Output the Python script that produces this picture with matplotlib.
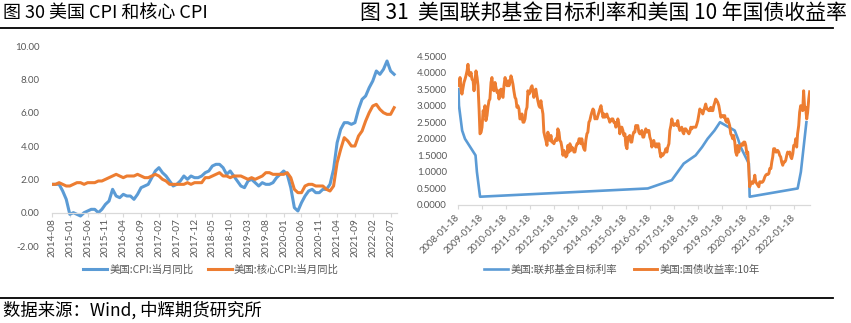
import numpy as np
import pandas as pd
import matplotlib
matplotlib.use("Agg")
import matplotlib.pyplot as plt
from matplotlib.lines import Line2D
from matplotlib.ticker import FormatStrFormatter

# ---- 美国 CPI / 核心 CPI 当月同比 (2014-08 .. 2022-08) ----
cpi_months = pd.period_range("2014-08", "2022-08", freq="M").strftime("%Y-%m")
cpi_yoy = [
    1.7, 1.7, 1.7, 1.3, 0.8,
    -0.1, 0.0, -0.1, -0.2, 0.0, 0.1, 0.2, 0.2, 0.0, 0.2, 0.5, 0.7,
    1.4, 1.0, 0.9, 1.1, 1.0, 1.0, 0.8, 1.1, 1.5, 1.6, 1.7, 2.1,
    2.5, 2.7, 2.4, 2.2, 1.9, 1.6, 1.7, 1.9, 2.2, 2.0, 2.2, 2.1,
    2.1, 2.2, 2.4, 2.5, 2.8, 2.9, 2.9, 2.7, 2.3, 2.5, 2.2, 1.9,
    1.6, 1.5, 1.9, 2.0, 1.8, 1.6, 1.8, 1.7, 1.7, 1.8, 2.1, 2.3,
    2.5, 2.3, 1.5, 0.3, 0.1, 0.6, 1.0, 1.3, 1.4, 1.2, 1.2, 1.4,
    1.4, 1.7, 2.6, 4.2, 5.0, 5.4, 5.4, 5.3, 5.4, 6.2, 6.8, 7.0,
    7.5, 7.9, 8.5, 8.3, 8.6, 9.1, 8.5, 8.3,
]
core_cpi_yoy = [
    1.7, 1.7, 1.8, 1.7, 1.6,
    1.6, 1.7, 1.8, 1.8, 1.7, 1.8, 1.8, 1.8, 1.9, 1.9, 2.0, 2.1,
    2.2, 2.3, 2.2, 2.1, 2.2, 2.2, 2.2, 2.3, 2.2, 2.1, 2.1, 2.2,
    2.3, 2.2, 2.0, 1.9, 1.7, 1.7, 1.7, 1.7, 1.7, 1.8, 1.7, 1.8,
    1.8, 1.8, 2.1, 2.1, 2.2, 2.3, 2.4, 2.2, 2.2, 2.1, 2.2, 2.2,
    2.2, 2.1, 2.0, 2.1, 2.0, 2.1, 2.2, 2.4, 2.4, 2.3, 2.3, 2.3,
    2.3, 2.4, 2.1, 1.4, 1.2, 1.2, 1.6, 1.7, 1.7, 1.6, 1.6, 1.6,
    1.4, 1.3, 1.6, 3.0, 3.8, 4.5, 4.3, 4.0, 4.0, 4.6, 4.9, 5.5,
    6.0, 6.4, 6.5, 6.2, 6.0, 5.9, 5.9, 6.3,
]

# ---- 联邦基金目标利率 (上限, 仅调整日) ----
fed_dates = pd.to_datetime([
    "2008-01-22", "2008-01-30", "2008-03-18", "2008-04-30", "2008-10-08",
    "2008-10-29", "2008-12-16", "2015-12-16", "2016-12-14", "2017-03-15",
    "2017-06-14", "2017-12-13", "2018-03-21", "2018-06-13", "2018-09-26",
    "2018-12-19", "2019-07-31", "2019-09-18", "2019-10-30", "2020-03-03",
    "2020-03-15", "2022-03-16", "2022-05-04", "2022-06-15", "2022-07-27",
])
fed_rate = [
    3.50, 3.00, 2.25, 2.00, 1.50, 1.00, 0.25, 0.50, 0.75, 1.00,
    1.25, 1.50, 1.75, 2.00, 2.25, 2.50, 2.25, 2.00, 1.75, 1.25,
    0.25, 0.50, 1.00, 1.75, 2.50,
]

# ---- 10 年期国债收益率, 每月 1 日 / 15 日 ----
ust10_2008 = [3.75,
              3.60, 3.85, 3.50, 3.35, 3.55, 3.70, 3.80, 3.90, 4.05, 4.25, 3.95,
              3.90, 4.00, 3.80, 3.75, 3.45, 3.80, 4.05, 3.85, 3.60, 2.90, 2.15]
ust10_2009 = [2.20, 2.35, 2.85, 2.75, 3.00, 2.55, 2.70, 2.95, 3.15, 3.20, 3.70, 3.85,
              3.50, 3.45, 3.70, 3.55, 3.40, 3.45, 3.20, 3.45, 3.50, 3.30, 3.25, 3.60]
ust10_2010 = [3.85, 3.70, 3.60, 3.75, 3.60, 3.70, 3.90, 3.80, 3.65, 3.45, 3.25, 3.20,
              2.95, 3.00, 2.90, 2.60, 2.60, 2.75, 2.50, 2.50, 2.60, 2.85, 2.95, 3.45]
ust10_2011 = [3.35, 3.40, 3.55, 3.60, 3.45, 3.25, 3.45, 3.50, 3.30, 3.15, 3.00, 2.95,
              3.15, 2.95, 2.75, 2.20, 2.05, 1.95, 1.80, 2.20, 2.05, 1.95, 2.10, 1.90]
ust10_2012 = [1.90, 1.85, 1.95, 2.00, 1.95, 2.30, 2.20, 1.95, 1.90, 1.75, 1.50, 1.65,
              1.55, 1.45, 1.50, 1.80, 1.60, 1.85, 1.65, 1.75, 1.70, 1.60, 1.60, 1.75]
ust10_2013 = [1.85, 1.85, 2.00, 2.00, 1.85, 2.00, 1.80, 1.70, 1.65, 1.95, 2.15, 2.20,
              2.50, 2.55, 2.70, 2.80, 2.90, 2.85, 2.60, 2.65, 2.60, 2.70, 2.80, 2.90]
ust10_2014 = [3.00, 2.85, 2.65, 2.75, 2.65, 2.70, 2.75, 2.65, 2.60, 2.50, 2.55, 2.60,
              2.60, 2.50, 2.50, 2.35, 2.40, 2.60, 2.45, 2.15, 2.35, 2.35, 2.25, 2.10]
ust10_2015 = [2.15, 1.80, 1.70, 2.05, 2.05, 2.10, 1.90, 1.90, 2.10, 2.20, 2.20, 2.40,
              2.35, 2.40, 2.20, 2.15, 2.15, 2.25, 2.05, 2.05, 2.20, 2.30, 2.20, 2.25]
ust10_2016 = [2.25, 2.05, 1.95, 1.75, 1.85, 1.95, 1.80, 1.75, 1.85, 1.75, 1.85, 1.60,
              1.45, 1.55, 1.50, 1.55, 1.60, 1.70, 1.60, 1.75, 1.85, 2.25, 2.40, 2.60]
ust10_2017 = [2.45, 2.40, 2.45, 2.45, 2.40, 2.55, 2.35, 2.25, 2.30, 2.35, 2.20, 2.15,
              2.30, 2.30, 2.25, 2.20, 2.15, 2.20, 2.35, 2.30, 2.35, 2.35, 2.35, 2.35]
ust10_2018 = [2.45, 2.55, 2.75, 2.90, 2.85, 2.85, 2.75, 2.85, 2.95, 3.05, 2.90, 2.90,
              2.85, 2.85, 2.95, 2.85, 2.85, 3.00, 3.10, 3.20, 3.15, 3.10, 3.00, 2.85]
ust10_2019 = [2.65, 2.70, 2.70, 2.65, 2.70, 2.55, 2.50, 2.60, 2.50, 2.40, 2.15, 2.10,
              2.00, 2.10, 1.90, 1.60, 1.50, 1.80, 1.60, 1.75, 1.80, 1.85, 1.80, 1.90]
ust10_2020 = [1.90, 1.80, 1.55, 1.60, 1.10, 0.55, 0.65, 0.70, 0.65, 0.70, 0.90, 0.70,
              0.65, 0.60, 0.55, 0.70, 0.70, 0.68, 0.70, 0.75, 0.85, 0.90, 0.93, 0.92]
ust10_2021 = [0.95, 1.10, 1.10, 1.30, 1.45, 1.70, 1.70, 1.60, 1.60, 1.65, 1.60, 1.50,
              1.45, 1.30, 1.20, 1.30, 1.30, 1.35, 1.50, 1.60, 1.55, 1.60, 1.45, 1.40]
ust10_2022 = [1.55, 1.80, 1.80, 2.00, 1.75, 2.15, 2.40, 2.80, 3.00, 2.90, 2.85, 3.45,
              2.90, 2.95, 2.60, 2.80, 3.20, 3.42]

ust10 = (ust10_2008 + ust10_2009 + ust10_2010 + ust10_2011 + ust10_2012
         + ust10_2013 + ust10_2014 + ust10_2015 + ust10_2016 + ust10_2017
         + ust10_2018 + ust10_2019 + ust10_2020 + ust10_2021 + ust10_2022)
ust10_dates = pd.date_range("2008-01-15", "2022-09-15", freq="SMS")
assert len(ust10_dates) == len(ust10)

date_ticks = pd.date_range("2008-01-18", periods=15, freq=pd.DateOffset(years=1))

BLUE = "#5B9BD5"
ORANGE = "#ED7D31"
GREY_TXT = "#595959"
GREY_AX = "#D9D9D9"
CJK = "Noto Sans CJK SC"

plt.rcParams["font.family"] = ["Lato", CJK]

W, H = 851, 323
fig = plt.figure(figsize=(W / 100, H / 100), dpi=100)


def fig_rect(x0, y0, x1, y1):
    return [x0 / W, 1 - y1 / H, (x1 - x0) / W, (y1 - y0) / H]


def style_axes(ax):
    for side in ("left", "right", "top"):
        ax.spines[side].set_visible(False)
    ax.spines["bottom"].set_color(GREY_AX)
    ax.spines["bottom"].set_linewidth(0.9)
    ax.tick_params(axis="y", length=0, colors=GREY_TXT)
    ax.tick_params(axis="x", length=3, width=0.8, color=GREY_AX, colors=GREY_TXT)


# ---- left: CPI ----
ax1 = fig.add_axes(fig_rect(52, 46, 397, 246))
# category axis crosses at 0, labels hang below it
ax1.spines["bottom"].set_position(("data", 0))
x = np.arange(len(cpi_months))
ax1.plot(x, cpi_yoy, color=BLUE, lw=2.2, label="美国:CPI:当月同比")
ax1.plot(x, core_cpi_yoy, color=ORANGE, lw=2.2, label="美国:核心CPI:当月同比")
ax1.set_xlim(0, len(x) - 0.2)
ax1.set_ylim(-2, 10)
ax1.set_yticks(np.arange(-2, 10.1, 2))
ax1.yaxis.set_major_formatter(FormatStrFormatter("%.2f"))
ax1.set_xticks(x[::5])
ax1.set_xticklabels(cpi_months[::5])
style_axes(ax1)
ax1.tick_params(axis="y", labelsize=7, pad=9)
ax1.tick_params(axis="x", labelsize=7.3, pad=1, labelrotation=90)
ax1.legend(loc="center", bbox_to_anchor=(211 / W, 1 - 270 / H),
           bbox_transform=fig.transFigure, ncol=2, frameon=False,
           prop={"family": CJK, "size": 7.5}, labelcolor=GREY_TXT,
           handlelength=2.3, handletextpad=0.2, columnspacing=1.4)

# ---- right: 联邦基金目标利率 / 10Y ----
ax2 = fig.add_axes(fig_rect(458, 56, 810, 205))
ax2.plot(fed_dates, fed_rate, color=BLUE, lw=1.9, label="美国:联邦基金目标利率")
ax2.plot(ust10_dates, ust10, color=ORANGE, lw=2.1, label="美国:国债收益率:10年")
ax2.set_xlim(pd.Timestamp("2008-01-15"), pd.Timestamp("2022-09-20"))
ax2.set_ylim(0, 4.5)
ax2.set_yticks(np.arange(0, 4.51, 0.5))
ax2.yaxis.set_major_formatter(FormatStrFormatter("%.4f"))
ax2.set_xticks(date_ticks)
ax2.set_xticklabels(date_ticks.strftime("%Y-%m-%d"), rotation=45,
                    ha="right", va="center", rotation_mode="anchor")
style_axes(ax2)
ax2.tick_params(axis="y", labelsize=7, pad=8)
ax2.tick_params(axis="x", labelsize=6.8, pad=5)
ax2.legend(loc="center", bbox_to_anchor=(622 / W, 1 - 270 / H),
           bbox_transform=fig.transFigure, ncol=2, frameon=False,
           prop={"family": CJK, "size": 7.5}, labelcolor=GREY_TXT,
           handlelength=2.3, handletextpad=0.2, columnspacing=1.6)

# ---- titles, rules, source ----
fig.text(3 / W, 1 - 13 / H, "图 30 美国 CPI 和核心 CPI", family=CJK,
         fontsize=13, va="center", ha="left")
fig.text(847 / W, 1 - 13 / H, "图 31  美国联邦基金目标利率和美国 10 年国债收益率",
         family=CJK, fontsize=15, va="center", ha="right")
for y in (28, 298):
    fig.add_artist(Line2D([0, 833 / W], [1 - y / H] * 2, transform=fig.transFigure,
                          color="black", lw=1.3))
fig.text(3 / W, 1 - 310 / H, "数据来源：Wind, 中辉期货研究所", family=CJK,
         fontsize=12.5, va="center", ha="left")

fig.savefig("out.png", dpi=100)
